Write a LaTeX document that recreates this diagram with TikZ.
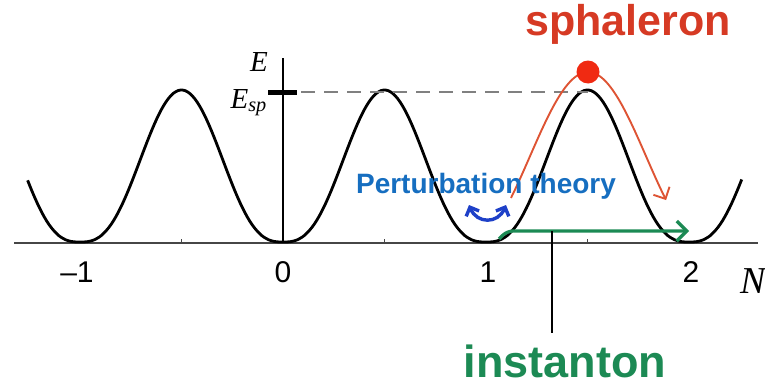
\documentclass[tikz,border=0pt]{standalone}
\usepackage{fontspec}
\setmainfont{Liberation Serif}
\newfontfamily\arialfont{Liberation Sans}
\usetikzlibrary{arrows.meta}
\definecolor{sphred}{RGB}{214,58,36}
\definecolor{dotred}{RGB}{240,42,18}
\definecolor{arcred}{RGB}{222,84,52}
\definecolor{instgreen}{RGB}{28,138,84}
\definecolor{ptblue}{RGB}{22,110,192}
\definecolor{arrblue}{RGB}{30,64,200}
\definecolor{dashgray}{RGB}{128,128,128}
\definecolor{axisgray}{RGB}{70,70,70}
\tikzset{
  axisline/.style={draw=axisgray, line width=2.4pt},
  potential/.style={draw=black, line width=2.8pt, line join=round},
  ticklabel/.style={font=\arialfont\fontsize{30}{30}\selectfont, inner sep=0pt, anchor=base},
  bigsans/.style={font=\arialfont\bfseries\fontsize{#1}{#1}\selectfont, inner sep=0pt, anchor=base},
  serifit/.style={font=\itshape\fontsize{#1}{#1}\selectfont, inner sep=0pt},
  halftick/.style={draw=axisgray, line width=1.2pt},
  barb/.style={-{Straight Barb[length=#1,width=2*#1]}},
}
\begin{document}
\begin{tikzpicture}[x=1pt,y=-1pt]
\useasboundingbox (0,0) rectangle (765,388);
% coordinates
\coordinate (O) at (283,243);
\coordinate (Etop) at (283,58);
\coordinate (axL) at (14,243);
\coordinate (axR) at (758,243);
\coordinate (tickL) at (268,92);
\coordinate (tickR) at (297,92);
\coordinate (peak) at (588,92);
\coordinate (gstart) at (499,239);
\coordinate (gbend) at (507,231);
\coordinate (gend) at (689,231);
\coordinate (bstart) at (469,205);
\coordinate (bend) at (506,205);
\coordinate (itop) at (552,231);
\coordinate (ibot) at (552,333);

% axis
\draw[axisline] (axL) -- (axR);
\foreach \t in {-0.5,0.5,1.5}
  \draw[halftick] ({283+203*\t},243) -- ++(0,-4);

% potential curve
\draw[potential] plot[domain=-1.258:2.262, samples=300]
  ({283+203*\x},{242-152*pow((1.0001-cos(360*\x))/2,1.4)});

% vertical axis
\draw[line width=2.2pt] (O) -- (Etop);
\node[serifit=29, anchor=base] (Elab) at (259,71) {E};
\node[serifit=29, anchor=base east] (Esp) at (267,108) {E\textsubscript{sp}};
\draw[line width=5pt] (tickL) -- (tickR);
\draw[dashgray, line width=2.4pt, dash pattern=on 14pt off 9pt] (tickR) ++(4,0) -- (peak);

% sphaleron path
\draw[arcred, line width=1.9pt, barb=9pt] plot[domain=1.17:1.836, samples=120]
  ({588+1.15*203*(\x-1.5)},{242-85*(1-cos(360*\x))});
\node[circle, fill=dotred, minimum size=23pt, inner sep=0pt] (dot) at (588,72) {};
\node[bigsans=43, text=sphred] (sph) at (628,35) {sphaleron};

% instanton
\draw[instgreen, line width=3.2pt, rounded corners=6pt, barb=10pt] (gstart) -- (gbend) -- (gend);
\draw[line width=2pt] (itop) -- (ibot);
\node[bigsans=45, text=instgreen] (inst) at (565,377) {instanton};

% perturbation theory
\node[bigsans=28, text=ptblue] (pt) at (486,193) {Perturbation theory};
\draw[arrblue, line width=3.4pt, {Straight Barb[length=7pt,width=14pt]}-{Straight Barb[length=7pt,width=14pt]}]
  (bstart) .. controls (477,224) and (498,224) .. (bend);

% tick labels
\node[ticklabel] (tm1) at (77,282) {–1};
\node[ticklabel] (t0) at (283,282) {0};
\node[ticklabel] (t1) at (488,282) {1};
\node[ticklabel] (t2) at (691,282) {2};
\node[serifit=38, anchor=base west] (Nlab) at (740,293) {N};
\end{tikzpicture}
\end{document}
